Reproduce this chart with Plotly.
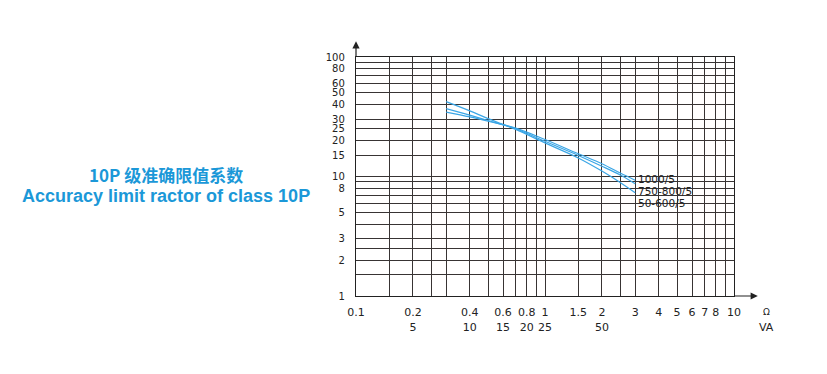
import math
import plotly.graph_objects as go

# ---- data ----
ohm = [0.3, 0.4, 0.5, 0.7, 1.0, 1.5, 2.0, 2.5, 3.0]
alf_50_600 = [42.3, 35.4, 30.5, 24.8, 19.1, 14.3, 11.1, 8.9, 7.3]
alf_750_800 = [37.0, 32.6, 29.4, 25.1, 19.7, 15.0, 12.2, 10.3, 8.7]
alf_1000 = [34.6, 31.5, 29.0, 25.4, 20.4, 15.5, 12.8, 10.7, 9.3]
series_names = ["1000/5", "750-800/5", "50-600/5"]
label_y = [9.45, 7.5, 5.95]

x_grid = [0.1, 0.15, 0.2, 0.25, 0.3, 0.4, 0.5, 0.6, 0.7, 0.8, 0.9,
          1, 1.5, 2, 2.5, 3, 4, 5, 6, 7, 8, 9, 10]
x_labels = [0.1, 0.2, 0.4, 0.6, 0.8, 1, 1.5, 2, 3, 4, 5, 6, 7, 8, 10]
va_at = {0.2: 5, 0.4: 10, 0.6: 15, 0.8: 20, 1: 25, 2: 50}

y_grid = [1, 1.5, 2, 2.5, 3, 4, 5, 6, 7, 8, 9, 10, 15, 20, 25, 30,
          40, 50, 60, 70, 80, 90, 100]
y_labels = [1, 2, 3, 5, 8, 10, 15, 20, 25, 30, 40, 50, 60, 80, 100]

title_cn = "10P 级准确限值系数"
title_en = "Accuracy limit ractor of class 10P"

# ---- styles ----
CURVE = "#3aa6e6"
GRID = "#383434"
BLUE = "#1b98d8"
XTICKFONT = dict(family="DejaVu Sans", size=11, color="#222222")
YTICKFONT = dict(family="DejaVu Sans", size=10, color="#222222")


def fmt(v):
    return ("%g" % v)


x_text = []
for v in x_grid:
    if v in x_labels:
        t = fmt(v)
        t += "<br>" + (str(va_at[v]) if v in va_at else " ")
        x_text.append(t)
    else:
        x_text.append("")
y_text = [fmt(v) if v in y_labels else "" for v in y_grid]

fig = go.Figure()
for name, ys in zip(series_names, [alf_1000, alf_750_800, alf_50_600]):
    fig.add_trace(go.Scatter(x=ohm, y=ys, mode="lines", name=name,
                             line=dict(color=CURVE, width=1.2, shape="spline"),
                             showlegend=False))

# curve labels (log axes: annotation positions in log10 units)
for name, ly in zip(series_names, label_y):
    fig.add_annotation(x=math.log10(ohm[-1]), y=math.log10(ly), xref="x", yref="y", text=name,
                       showarrow=False, xanchor="left", yanchor="middle",
                       xshift=1, font=dict(family="DejaVu Sans", size=10.5, color="#222222"))

# axis arrows
fig.add_annotation(x=0, y=1.066, xref="paper", yref="paper", ax=0, ay=17,
                   axref="pixel", ayref="pixel", text="", showarrow=True,
                   arrowhead=2, arrowsize=1.2, arrowwidth=1.2, arrowcolor="#222222")
fig.add_annotation(x=1.063, y=0, xref="paper", yref="paper", ax=-25, ay=0,
                   axref="pixel", ayref="pixel", text="", showarrow=True,
                   arrowhead=2, arrowsize=1.2, arrowwidth=1.2, arrowcolor="#222222")

fig.add_annotation(x=1.087, y=-0.068, xref="paper", yref="paper", text="Ω",
                   xanchor="center", yanchor="middle",
                   showarrow=False, font=dict(family="DejaVu Sans", size=9, color="#222222"))
fig.add_annotation(x=1.087, y=-0.131, xref="paper", yref="paper", text="VA",
                   xanchor="center", yanchor="middle",
                   showarrow=False, font=dict(family="DejaVu Sans", size=11, color="#222222"))

fig.add_annotation(x=-0.5026, y=0.508, xref="paper", yref="paper", text="<b>%s</b>" % title_cn,
                   showarrow=False, xanchor="center", yanchor="middle",
                   font=dict(family="Noto Sans CJK SC", size=17, color=BLUE))
fig.add_annotation(x=-0.5026, y=0.4165, xref="paper", yref="paper", text="<b>%s</b>" % title_en,
                   showarrow=False, xanchor="center", yanchor="middle",
                   font=dict(family="Liberation Sans", size=18, color=BLUE))

fig.update_xaxes(type="log", range=[-1, 1], tickmode="array", tickvals=x_grid,
                 ticktext=x_text, showgrid=True, gridcolor=GRID, gridwidth=1.2,
                 showline=True, linecolor="#222222", linewidth=1.3, mirror=True,
                 ticks="", tickfont=XTICKFONT, zeroline=False, ticklabelstandoff=6)
fig.update_yaxes(type="log", range=[0, 2], tickmode="array", tickvals=y_grid,
                 ticktext=y_text, showgrid=True, gridcolor=GRID, gridwidth=1.2,
                 showline=True, linecolor="#222222", linewidth=1.3, mirror=True,
                 ticks="", tickfont=YTICKFONT, zeroline=False, ticklabelstandoff=8)

fig.update_layout(width=819, height=366, margin=dict(l=348, r=93, t=49, b=78),
                  paper_bgcolor="white", plot_bgcolor="white", showlegend=False)

fig.write_html("out.html")
